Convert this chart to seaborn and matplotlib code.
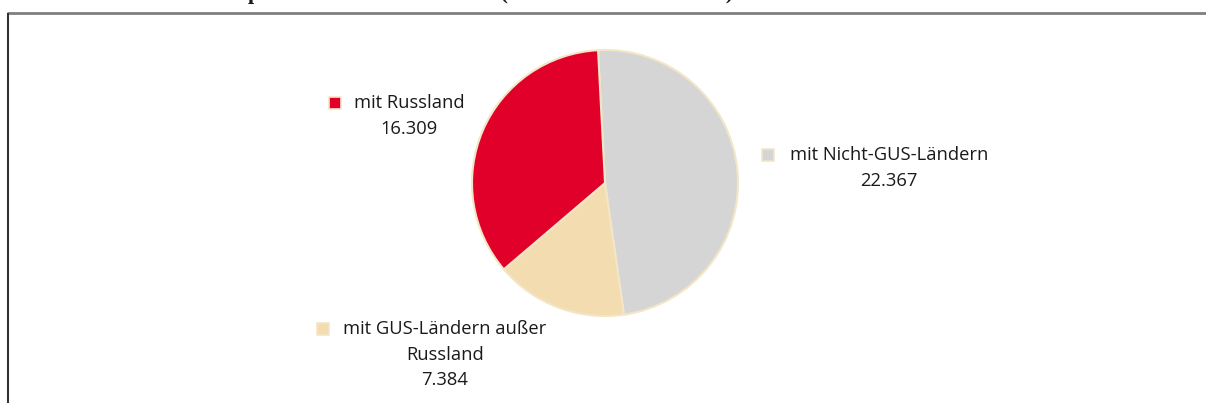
import matplotlib
matplotlib.use("Agg")
import matplotlib.pyplot as plt
import seaborn as sns

## Data
categories = ["mit Nicht-GUS-Ländern", "mit GUS-Ländern außer\nRussland", "mit Russland"]
values = [22367, 7384, 16309]
colors = ["#d5d5d5", "#f2dcb0", "#e0002a"]

## Layout (pixel coords, y from top)
W, H = 1206, 403
pie_center = (605, 183)
pie_radius = 133
label_pos = [(889, 155), (445, 329), (409, 103)]   # centre of first text line
marker_x = [768, 323, 335]
line_step = 25.5

sns.set_theme(style="white")
plt.rcParams["font.family"] = ["Open Sans", "DejaVu Sans"]

fig = plt.figure(figsize=(W / 100, H / 100), dpi=100)
ax = fig.add_axes([0, 0, 1, 1])
ax.set_xlim(0, W)
ax.set_ylim(0, H)
ax.set_aspect("equal")
ax.axis("off")

## Pie
ax.pie(values, colors=colors, startangle=93, counterclock=False,
       center=(pie_center[0], H - pie_center[1]), radius=pie_radius,
       wedgeprops=dict(edgecolor="#f3e6c6", linewidth=1.5), frame=False)
ax.set_xlim(0, W)
ax.set_ylim(0, H)

## Data labels with legend keys
for cat, val, col, (lx, ly), mx in zip(categories, values, colors, label_pos, marker_x):
    lines = cat.split("\n") + [f"{val:,}".replace(",", ".")]
    for i, line in enumerate(lines):
        ax.text(lx, H - (ly + i * line_step), line, ha="center", va="center",
                fontsize=13.2, color="#1a1a1a")
    ax.scatter([mx], [H - ly], marker="s", s=70, color=col,
               edgecolors="#f3e6c6", linewidths=1.2, zorder=5)

## Frame lines
ax.plot([7, W], [H - 12.5, H - 12.5], color="#808080", lw=2, solid_capstyle="butt")
ax.plot([7.5, 7.5], [0, H - 12.5], color="#333333", lw=1.5, solid_capstyle="butt")

## Title, mostly cut off by the top edge (only descenders show)
fig.text(112 / W, 1 + 0.5 / H, "Außenhandelspartner Kasachstans 2014 (in Millionen US-Dollar)",
         ha="left", va="baseline", fontsize=16, fontweight="bold",
         family=["Liberation Serif", "DejaVu Serif"], color="#1a1a1a")

fig.savefig("out.png", dpi=100)
